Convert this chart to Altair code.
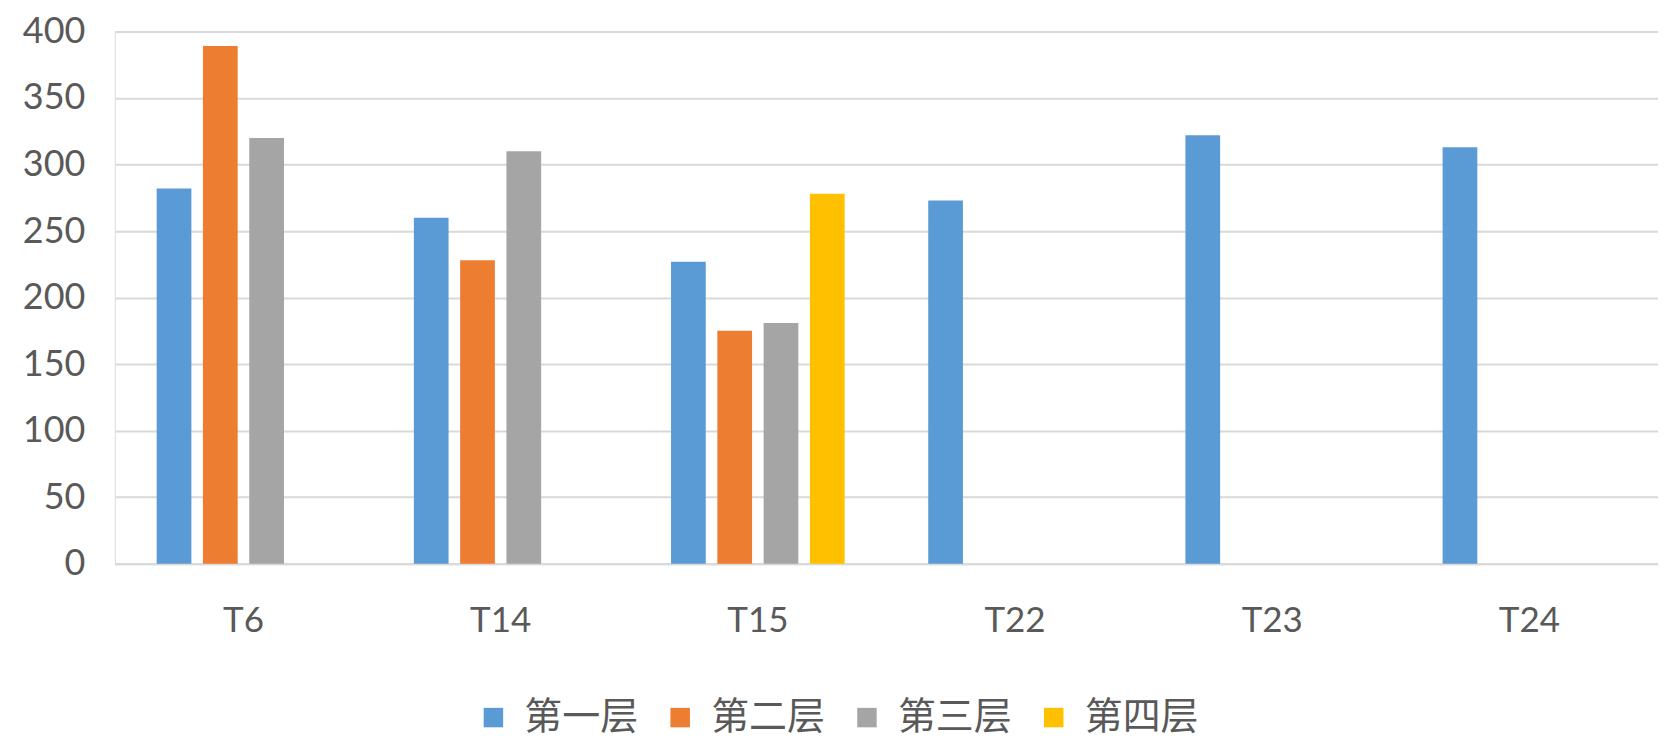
import altair as alt
import pandas as pd

categories = ["T6", "T14", "T15", "T22", "T23", "T24"]
series_names = ["第一层", "第二层", "第三层", "第四层"]
colors = ["#5B9BD5", "#ED7D31", "#A5A5A5", "#FFC000"]

layer1 = {"T6": 282, "T14": 260, "T15": 227, "T22": 273, "T23": 322, "T24": 313}
layer2 = {"T6": 389, "T14": 228, "T15": 175}
layer3 = {"T6": 320, "T14": 310, "T15": 181}
layer4 = {"T15": 278}

rows = []
for name, vals in zip(series_names, [layer1, layer2, layer3, layer4]):
    for cat in categories:
        if cat in vals:
            rows.append({"category": cat, "series": name, "value": vals[cat]})
df = pd.DataFrame(rows)

AXIS_FONT = "Lato"
CJK_FONT = "Noto Sans CJK SC"
TEXT = "#595959"

chart = alt.Chart(df).mark_bar().encode(
    x=alt.X("category:N", sort=categories, title=None,
            scale=alt.Scale(paddingInner=0.28, paddingOuter=0.14),
            axis=alt.Axis(labelAngle=0, labelFontSize=35, labelColor=TEXT, labelFont=AXIS_FONT,
                          labelPadding=40, ticks=False, domain=True, domainColor="#D9D9D9",
                          domainWidth=2, grid=False)),
    xOffset=alt.XOffset("series:N", sort=series_names,
                        scale=alt.Scale(domain=series_names, paddingInner=0.25, paddingOuter=0.125)),
    y=alt.Y("value:Q", title=None,
            scale=alt.Scale(domain=[0, 400], nice=False),
            axis=alt.Axis(values=list(range(0, 401, 50)), labelFontSize=36, labelColor=TEXT,
                          labelFont=AXIS_FONT, labelPadding=30, ticks=False, domain=False,
                          grid=True, gridColor="#D9D9D9", gridWidth=2)),
    color=alt.Color("series:N", sort=series_names,
                    scale=alt.Scale(domain=series_names, range=colors),
                    legend=alt.Legend(title=None, orient="none", direction="horizontal",
                                      legendX=360, legendY=668, symbolType="square",
                                      symbolSize=380, symbolStrokeWidth=0,
                                      labelFontSize=38, labelFont=CJK_FONT, labelColor=TEXT,
                                      labelOffset=12, columnPadding=22)),
).properties(
    width=1545, height=533,
    autosize=alt.AutoSizeParams(type="none"),
    padding={"left": 107, "top": 23, "right": 0, "bottom": 177},
).configure_view(stroke=None).configure(background="white")

chart.save("out.html", embed_options={"renderer": "svg", "actions": False})
